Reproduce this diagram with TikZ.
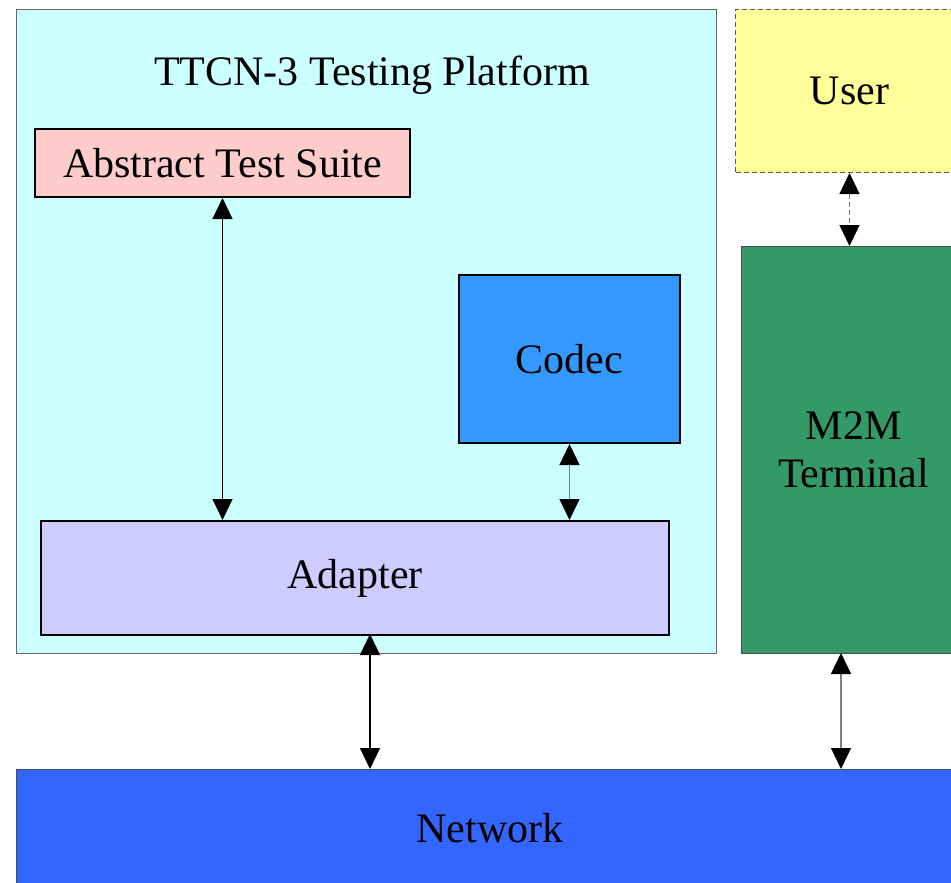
\documentclass[tikz,border=0pt]{standalone}
\usepackage{fontspec}
\setmainfont{Liberation Serif}
\usetikzlibrary{arrows.meta, positioning}
\definecolor{platcyan}{HTML}{CCFFFF}
\definecolor{atspink}{HTML}{FFCCCC}
\definecolor{codecblue}{HTML}{3399FF}
\definecolor{adaptlilac}{HTML}{CCCCFF}
\definecolor{useryellow}{HTML}{FFFF99}
\definecolor{termgreen}{HTML}{339966}
\definecolor{netblue}{HTML}{3366FF}

\begin{document}
\begin{tikzpicture}[x=1pt, y=-1pt,
    block/.style={draw=black, line width=2pt, inner sep=0pt, anchor=north west,
                  font=\fontsize{42}{48}\selectfont, align=center},
    link/.style={{Triangle[length=21pt,width=20pt,color=black]}-{Triangle[length=21pt,width=20pt,color=black]}, line width=1.2pt}]
\useasboundingbox (0,0) rectangle (951,883);
\clip (0,0) rectangle (951,883);

\node[block, draw=gray!80!black, line width=1pt, fill=platcyan, minimum width=700, minimum height=644] (platform) at (16,9) {};
\node[font=\fontsize{42}{48}\selectfont] (title) at (372,75) {TTCN-3 Testing Platform};
\node[block, fill=atspink, minimum width=375, minimum height=68] (ats) at (34,128) {Abstract Test Suite};
\node[block, fill=codecblue, minimum width=221, minimum height=168] (codec) at (458,274) {Codec};
\node[block, fill=adaptlilac, minimum width=628, minimum height=114] (adapter) at (40,520) {Adapter};
\node[block, draw=gray!70!black, line width=1pt, dash pattern=on 5pt off 3pt, fill=useryellow, minimum width=228, minimum height=163] (user) at (735,9) {User};
\node[block, line width=1pt, draw=gray!60!black, fill=termgreen, minimum width=224, minimum height=407] (m2m) at (741,246) {M2M\\Terminal};
\node[block, line width=1pt, draw=gray!60!black, fill=netblue, minimum width=960, minimum height=130] (network) at (16,769) {};
\node[font=\fontsize{42}{48}\selectfont] (nettext) at (490,828) {Network};

\coordinate (adout) at (370,634);
\coordinate (termout) at (841,653);

\draw[link] (ats.south) -- (ats.south |- adapter.north);
\draw[link, draw=gray!80!teal] (codec.south) -- (codec.south |- adapter.north);
\draw[link] (adout) -- (adout |- network.north);
\draw[link, draw=gray, dash pattern=on 5pt off 3pt] (user.south) -- (user.south |- m2m.north);
\draw[link, draw=gray] (termout) -- (termout |- network.north);
\end{tikzpicture}
\end{document}
